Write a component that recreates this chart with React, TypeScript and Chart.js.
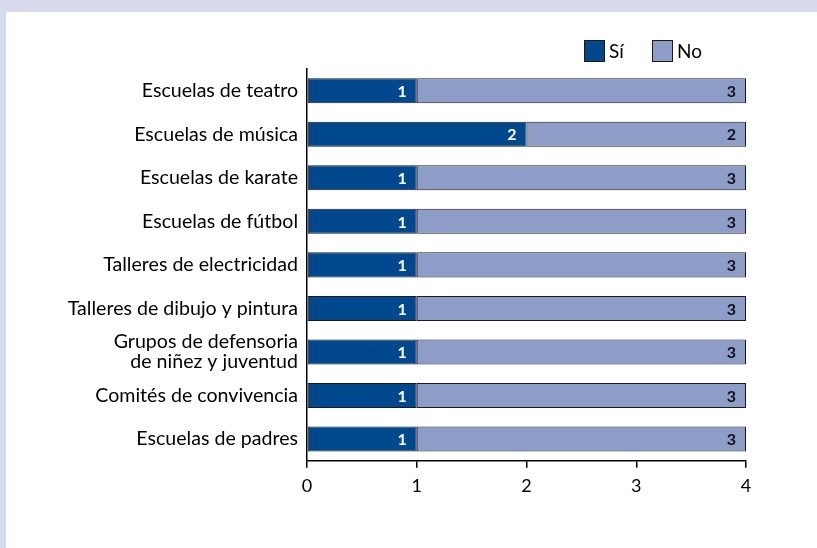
import React, { useEffect, useRef } from 'react';
import { Chart, registerables } from 'chart.js';

Chart.register(...registerables);

const categories: (string | string[])[] = [
  'Escuelas de teatro',
  'Escuelas de música',
  'Escuelas de karate',
  'Escuelas de fútbol',
  'Talleres de electricidad',
  'Talleres de dibujo y pintura',
  ['Grupos de defensoria', 'de niñez y juventud'],
  'Comités de convivencia',
  'Escuelas de padres',
];
const siValues = [1, 2, 1, 1, 1, 1, 1, 1, 1];
const noValues = [3, 2, 3, 3, 3, 3, 3, 3, 3];
const seriesNames = ['Sí', 'No'];
const seriesColors = ['#00488e', '#8e9dc8'];
const labelColors = ['#ffffff', '#111111'];
const xMin = 0;
const xMax = 4;

const FONT = 'Lato, "Open Sans", sans-serif';

export default function App() {
  const ref = useRef<HTMLCanvasElement | null>(null);

  useEffect(() => {
    if (!ref.current) return;

    const valueLabels = {
      id: 'valueLabels',
      afterDatasetsDraw(chart: any) {
        const ctx = chart.ctx;
        ctx.save();
        ctx.font = `bold 16px ${FONT}`;
        ctx.textAlign = 'right';
        ctx.textBaseline = 'middle';
        chart.data.datasets.forEach((ds: any, di: number) => {
          const meta = chart.getDatasetMeta(di);
          meta.data.forEach((el: any, i: number) => {
            ctx.fillStyle = labelColors[di];
            ctx.fillText(String(ds.data[i]), el.x - 10, el.y + 1);
          });
        });
        ctx.restore();
      },
    };

    const customLegend = {
      id: 'customLegend',
      afterDraw(chart: any) {
        const ctx = chart.ctx;
        const right = chart.chartArea.right;
        const starts = [right - 162, right - 94];
        ctx.save();
        ctx.font = `19px ${FONT}`;
        ctx.textBaseline = 'middle';
        ctx.textAlign = 'left';
        seriesNames.forEach((name, i) => {
          const x = starts[i];
          const y = 28;
          ctx.fillStyle = seriesColors[i];
          ctx.fillRect(x, y, 21, 22);
          ctx.strokeStyle = '#1a1a1a';
          ctx.lineWidth = 1;
          ctx.strokeRect(x + 0.5, y + 0.5, 20, 21);
          ctx.fillStyle = '#000';
          ctx.fillText(name, x + 25, y + 12);
        });
        ctx.restore();
      },
    };

    const chart = new Chart(ref.current, {
      type: 'bar',
      data: {
        labels: categories,
        datasets: [
          {
            label: seriesNames[0],
            data: siValues,
            backgroundColor: seriesColors[0],
            borderColor: '#1a1a1a',
            borderWidth: 1,
            borderSkipped: false,
            barPercentage: 0.575,
            categoryPercentage: 1,
          },
          {
            label: seriesNames[1],
            data: noValues,
            backgroundColor: seriesColors[1],
            borderColor: '#1a1a1a',
            borderWidth: 1,
            borderSkipped: false,
            barPercentage: 0.575,
            categoryPercentage: 1,
          },
        ],
      },
      options: {
        indexAxis: 'y',
        animation: false,
        responsive: false,
        maintainAspectRatio: false,
        layout: { padding: { top: 57, right: 71, bottom: 47.25, left: 0 } },
        plugins: {
          legend: { display: false },
          tooltip: { enabled: false },
        },
        scales: {
          x: {
            stacked: true,
            min: xMin,
            max: xMax,
            ticks: {
              stepSize: 1,
              color: '#000',
              font: { family: FONT, size: 18 },
              padding: 8,
            },
            grid: {
              drawOnChartArea: false,
              drawTicks: true,
              tickLength: 7,
              color: '#000',
              lineWidth: 1.5,
            },
            border: { display: true, color: '#000', width: 1.5 },
            afterFit: (s: any) => {
              s.height = 40;
            },
          },
          y: {
            stacked: true,
            ticks: {
              color: '#000',
              font: { family: FONT, size: 19.6, lineHeight: 1.02 },
              padding: 9,
              autoSkip: false,
            },
            grid: { display: true, drawOnChartArea: false, drawTicks: false },
            border: { display: true, color: '#000', width: 1.5 },
            afterFit: (s: any) => {
              s.width = 301;
            },
          },
        },
      },
      plugins: [valueLabels, customLegend],
    });

    return () => chart.destroy();
  }, []);

  return (
    <div
      style={{
        position: 'absolute',
        left: 0,
        top: 0,
        width: 817,
        height: 548,
        background: '#d8daee',
      }}
    >
      <div
        style={{
          position: 'absolute',
          left: 6,
          top: 12,
          width: 811,
          height: 536,
          background: '#ffffff',
        }}
      >
        <canvas ref={ref} width={811} height={536} style={{ display: 'block' }} />
      </div>
    </div>
  );
}
